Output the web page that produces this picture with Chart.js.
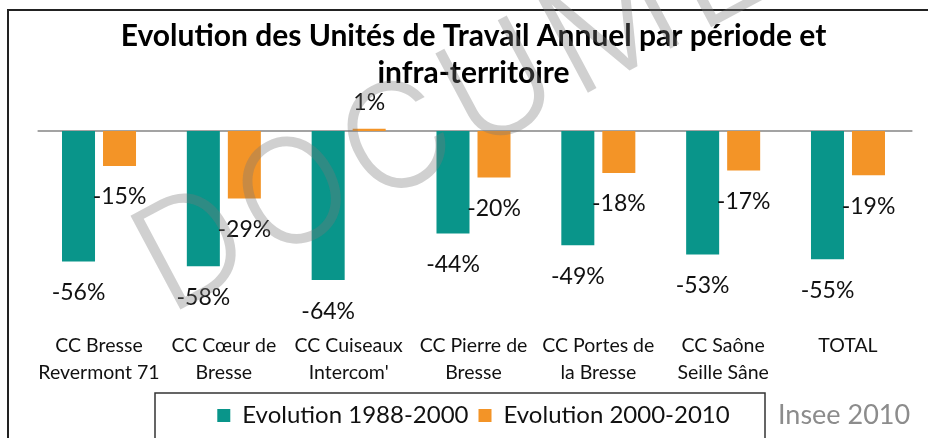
<!DOCTYPE html>
<html>
<head>
<meta charset="utf-8">
<script src="https://cdn.jsdelivr.net/npm/chart.js@4/dist/chart.umd.min.js"></script>
<style>
  body { margin: 0; background: #fff; }
  #wrap { width: 928px; height: 438px; }
</style>
</head>
<body>
<div id="wrap"><canvas id="barChart" width="928" height="438"></canvas></div>
<script>
var categories = [['CC Bresse', 'Revermont 71'], ['CC Cœur de', 'Bresse'], ['CC Cuiseaux', "Intercom'"], ['CC Pierre de', 'Bresse'], ['CC Portes de', 'la Bresse'], ['CC Saône', 'Seille Sâne'], 'TOTAL'];
var evol1988 = [-56, -58, -64, -44, -49, -53, -55];
var evol2000 = [-15, -29, 1, -20, -18, -17, -19];
var seriesNames = ['Evolution 1988-2000', 'Evolution 2000-2010'];
var titleLines = ['Evolution des Unités de Travail Annuel par période et', 'infra-territoire'];
var sourceText = 'Insee 2010';
var watermark = 'DOCUMENT';

var FONT = 'Lato';

// zero line, frame, value labels, source and watermark
var extras = {
    id: 'extras',
    beforeDatasetsDraw: function (chart) {
        var c = chart.ctx, a = chart.chartArea;
        var y0 = chart.scales.y.getPixelForValue(0);
        c.save();
        c.strokeStyle = '#a3a3a3';
        c.lineWidth = 2;
        c.beginPath();
        c.moveTo(a.left + 1, y0);
        c.lineTo(a.right + 2, y0);
        c.stroke();
        c.restore();
    },
    afterDatasetsDraw: function (chart) {
        var c = chart.ctx;
        c.save();
        c.font = '23px ' + FONT;
        c.fillStyle = '#111';
        c.textAlign = 'center';
        c.textBaseline = 'middle';
        chart.data.datasets.forEach(function (ds, i) {
            chart.getDatasetMeta(i).data.forEach(function (bar, j) {
                var v = ds.data[j];
                var y = v < 0 ? bar.y + 31 : bar.y - 26;
                c.fillText(v + '%', bar.x, y);
            });
        });
        c.restore();
    },
    afterDraw: function (chart) {
        var c = chart.ctx;
        c.save();
        // outer frame
        c.strokeStyle = '#222';
        c.lineWidth = 2;
        c.beginPath();
        c.moveTo(8, 440);
        c.lineTo(8, 10);
        c.lineTo(930, 10);
        c.stroke();
        // legend frame
        c.lineWidth = 1.5;
        c.strokeStyle = '#333';
        c.strokeRect(155, 393, 610, 60);
        // source
        c.font = '27px ' + FONT;
        c.fillStyle = '#8c8c8c';
        c.textAlign = 'left';
        c.textBaseline = 'middle';
        c.fillText(sourceText, 778, 415);
        // watermark
        c.translate(168, 316);
        c.rotate(-28 * Math.PI / 180);
        c.font = '300 146px Inter';
        c.letterSpacing = '8px';
        c.fillStyle = 'rgba(120,120,120,0.35)';
        c.textBaseline = 'alphabetic';
        c.fillText(watermark, 0, 0);
        c.restore();
    }
};

var ctx = document.getElementById('barChart').getContext('2d');
var myChart = new Chart(ctx, {
    type: 'bar',
    data: {
        labels: categories,
        datasets: [{
            label: seriesNames[0],
            data: evol1988,
            backgroundColor: '#09958a'
        }, {
            label: seriesNames[1],
            data: evol2000,
            backgroundColor: '#f39427'
        }]
    },
    options: {
        responsive: false,
        animation: false,
        categoryPercentage: 0.657,
        barPercentage: 0.805,
        layout: { padding: { left: 36.6, right: 17.6, top: 0, bottom: 0.4 } },
        scales: {
            x: {
                grid: { display: false, drawTicks: false },
                border: { display: false },
                ticks: { color: '#111', font: { family: FONT, size: 19.5, lineHeight: 1.385 }, padding: 15, maxRotation: 0, autoSkip: false },
                afterFit: function (s) { s.height = 76.2; }
            },
            y: {
                display: false,
                min: -80,
                max: 10
            }
        },
        plugins: {
            title: {
                display: true,
                text: titleLines,
                color: '#000',
                font: { family: FONT, size: 30, weight: 'bold', lineHeight: 1.233 },
                padding: { top: 18, bottom: 15.7 }
            },
            legend: {
                position: 'bottom',
                labels: { color: '#111', font: { family: FONT, size: 24 }, boxWidth: 13, boxHeight: 13, padding: 10 }
            },
            tooltip: { enabled: false }
        }
    },
    plugins: [extras]
});
</script>
</body>
</html>
